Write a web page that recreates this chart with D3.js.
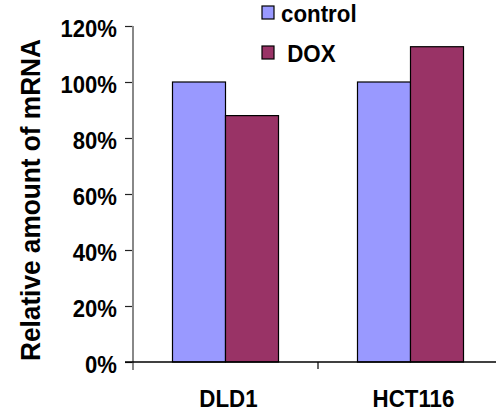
<!DOCTYPE html>
<html>
<head>
<meta charset="utf-8">
<script src="https://cdn.jsdelivr.net/npm/d3@7"></script>
<style>
  body { margin: 0; background: #fff; }
  text { font-family: "Liberation Sans", Arial, sans-serif; font-weight: bold; fill: #000; }
</style>
</head>
<body>
<div class="chart"></div>
<script>
// Data
var categories = ["DLD1", "HCT116"];
var seriesNames = ["control", "DOX"];
var controlValues = [1.00, 1.00];
var doxValues = [0.88, 1.126];
var yTicks = [0, 0.2, 0.4, 0.6, 0.8, 1.0, 1.2];
var colors = ["#9999ff", "#993366"];

var width = 496;
var height = 417;

var svg = d3.select(".chart").append("svg")
    .attr("width", width)
    .attr("height", height);

// The original text is a little condensed, squeeze it horizontally
function squeeze(sel, factor) {
    sel.each(function() {
        var len = this.getComputedTextLength();
        d3.select(this)
            .attr("textLength", len * factor)
            .attr("lengthAdjust", "spacingAndGlyphs");
    });
}

/**
 * Scales
 */
var y = d3.scaleLinear()
    .domain([0, 1.2])
    .range([362, 26]);

var x0 = d3.scaleBand()
    .domain(categories)
    .range([133, 503])
    .paddingInner(0.427)
    .paddingOuter(0.2135);

var x1 = d3.scaleBand()
    .domain(seriesNames)
    .range([0, x0.bandwidth()]);

var rows = categories.map(function(c, i) {
    return { category: c, values: [controlValues[i], doxValues[i]] };
});

/**
 * Bars
 */
var groups = svg.selectAll(".group")
    .data(rows)
    .enter().append("g")
    .attr("class", "group")
    .attr("transform", function(d) { return "translate(" + x0(d.category) + ",0)"; });

groups.selectAll("rect")
    .data(function(d) {
        return d.values.map(function(v, j) { return { name: seriesNames[j], value: v, idx: j }; });
    })
    .enter().append("rect")
    .attr("x", function(d) { return x1(d.name); })
    .attr("y", function(d) { return y(d.value); })
    .attr("width", x1.bandwidth())
    .attr("height", function(d) { return y(0) - y(d.value); })
    .style("fill", function(d) { return colors[d.idx]; })
    .style("stroke", "#000")
    .style("stroke-width", 1.2);

/**
 * Y axis
 */
var yAxis = svg.append("g")
    .attr("transform", "translate(133,0)")
    .call(d3.axisLeft(y).tickValues(yTicks).tickFormat(d3.format(".0%")).tickSize(8).tickPadding(8));

yAxis.select(".domain").remove();
yAxis.selectAll(".tick line").style("stroke", "#222").style("stroke-width", 1.2);
yAxis.selectAll(".tick text")
    .style("font-size", "24px")
    .attr("dy", "0.45em")
    .call(squeeze, 0.92);

// Gray vertical axis line
svg.append("line")
    .attr("x1", 133).attr("x2", 133)
    .attr("y1", y(1.2)).attr("y2", 370)
    .style("stroke", "#888")
    .style("stroke-width", 2);

/**
 * X axis
 */
svg.append("line")
    .attr("x1", 125).attr("x2", width)
    .attr("y1", y(0)).attr("y2", y(0))
    .style("stroke", "#000")
    .style("stroke-width", 1.5);

// Category separators
svg.selectAll(".cat-tick")
    .data(d3.range(1, categories.length + 1))
    .enter().append("line")
    .attr("class", "cat-tick")
    .attr("x1", function(i) { return 133 + i * x0.step(); })
    .attr("x2", function(i) { return 133 + i * x0.step(); })
    .attr("y1", y(0))
    .attr("y2", y(0) + 7)
    .style("stroke", "#000")
    .style("stroke-width", 1.2);

svg.selectAll(".cat-label")
    .data(categories)
    .enter().append("text")
    .attr("class", "cat-label")
    .attr("x", function(c) { return x0(c) + x0.bandwidth() / 2 + 3; })
    .attr("y", 407)
    .attr("text-anchor", "middle")
    .style("font-size", "23px")
    .text(function(c) { return c; })
    .call(squeeze, 0.97);

// Y axis title
svg.append("text")
    .attr("transform", "translate(40,200) rotate(-90)")
    .attr("text-anchor", "middle")
    .style("font-size", "28px")
    .text("Relative amount of mRNA")
    .attr("textLength", 322)
    .attr("lengthAdjust", "spacingAndGlyphs");

/**
 * Legend
 */
var legendLabels = ["control", " DOX"];
var legend = svg.selectAll(".legend")
    .data(seriesNames)
    .enter().append("g")
    .attr("class", "legend")
    .attr("transform", function(d, i) { return "translate(262," + (6 + i * 40) + ")"; });

legend.append("rect")
    .attr("width", 12)
    .attr("height", 13)
    .style("fill", function(d, i) { return colors[i]; })
    .style("stroke", "#000")
    .style("stroke-width", 1.2);

legend.append("text")
    .attr("x", 19)
    .attr("y", 16)
    .style("font-size", "24px")
    .attr("xml:space", "preserve")
    .text(function(d, i) { return legendLabels[i]; })
    .call(squeeze, 0.93);
</script>
</body>
</html>
